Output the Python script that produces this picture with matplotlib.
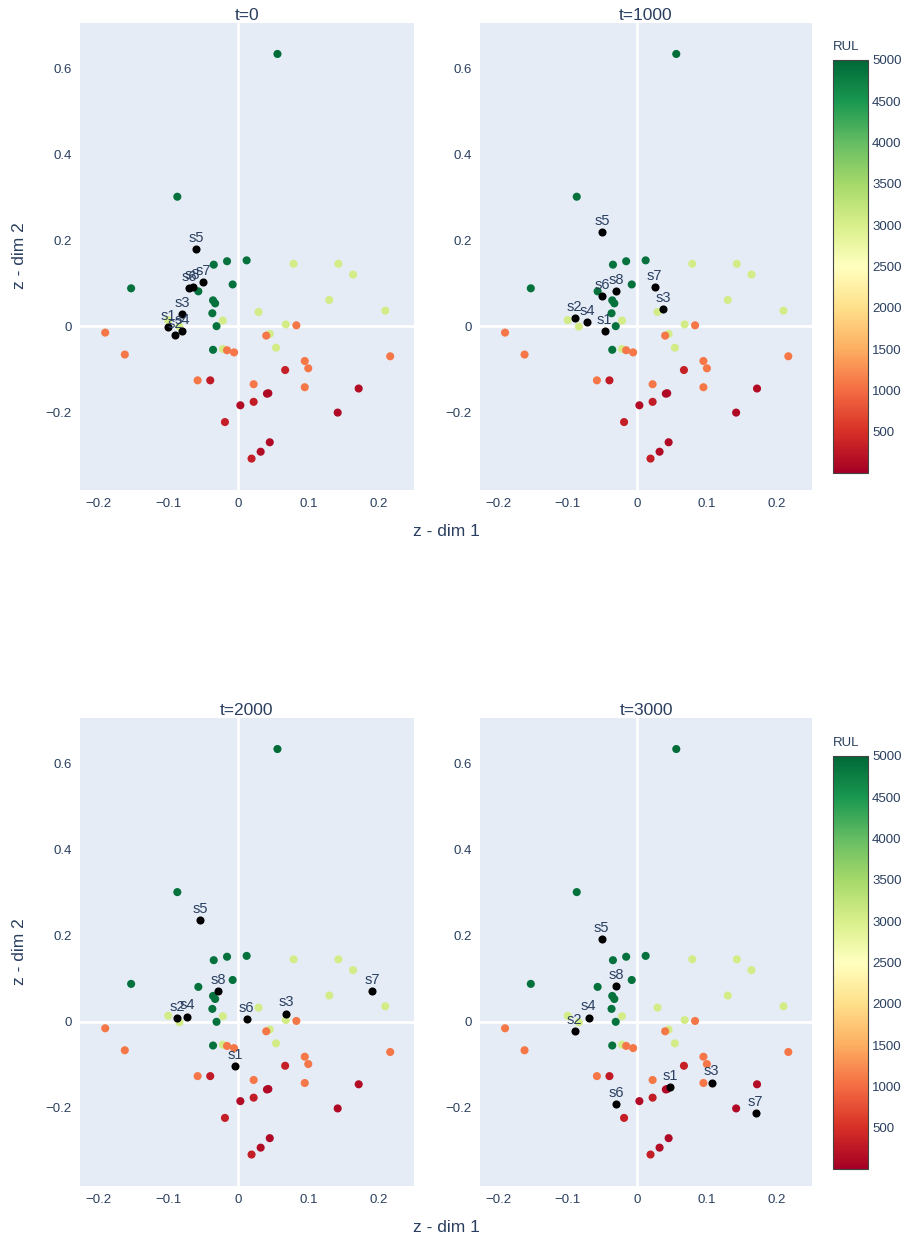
import matplotlib
matplotlib.use("Agg")
import matplotlib.pyplot as plt
import numpy as np
from matplotlib.cm import ScalarMappable
from matplotlib.colors import Normalize

plt.rcParams['font.family'] = ['Liberation Sans', 'DejaVu Sans']

# background points (same in every panel), coloured by RUL
bg_x = [0.056, -0.087, -0.035, -0.016, 0.012, -0.153, -0.057, -0.008, -0.036, -0.033,
        -0.037, -0.031, -0.036,
        0.079, 0.143, 0.164, 0.130, 0.210, 0.029, -0.022, 0.068, 0.045, 0.054, -0.022,
        -0.100, -0.084,
        -0.190, -0.162, 0.083, 0.040, -0.016, -0.006, 0.217, 0.095, 0.100, -0.058,
        0.022, 0.095,
        0.067, -0.040, 0.172, 0.041, 0.043, 0.022, 0.003, 0.142, -0.019, 0.045,
        0.032, 0.019]
bg_y = [0.633, 0.301, 0.143, 0.151, 0.153, 0.088, 0.081, 0.097, 0.060, 0.053,
        0.030, 0.000, -0.055,
        0.145, 0.145, 0.120, 0.061, 0.036, 0.033, 0.013, 0.004, -0.018, -0.050, -0.053,
        0.014, -0.001,
        -0.015, -0.066, 0.002, -0.022, -0.056, -0.061, -0.070, -0.081, -0.098, -0.126,
        -0.135, -0.142,
        -0.102, -0.126, -0.145, -0.157, -0.156, -0.176, -0.184, -0.201, -0.223, -0.270,
        -0.292, -0.308]
bg_rul = [4950, 4900, 4900, 4900, 4900, 4900, 4900, 4900, 4900, 4900,
          4900, 4900, 4900,
          3050, 3050, 3050, 3050, 3050, 3050, 3050, 3050, 3050, 3050, 3050,
          3050, 3050,
          1080, 1080, 1080, 1080, 1080, 1080, 1080, 1080, 1080, 1080,
          1080, 1080,
          350, 280, 150, 100, 100, 300, 120, 100, 320, 100,
          120, 330]

# tracked samples s1..s8 at each time step
labels = ['s1', 's2', 's3', 's4', 's5', 's6', 's7', 's8']
times = [0, 1000, 2000, 3000]
sx = {
    0:    [-0.100, -0.090, -0.080, -0.080, -0.060, -0.070, -0.050, -0.065],
    1000: [-0.047, -0.090, 0.037, -0.072, -0.050, -0.050, 0.025, -0.030],
    2000: [-0.004, -0.087, 0.068, -0.073, -0.054, 0.012, 0.191, -0.029],
    3000: [0.047, -0.090, 0.107, -0.070, -0.051, -0.030, 0.170, -0.030],
}
sy = {
    0:    [-0.002, -0.021, 0.029, -0.012, 0.179, 0.089, 0.102, 0.092],
    1000: [-0.011, 0.019, 0.039, 0.009, 0.219, 0.069, 0.091, 0.082],
    2000: [-0.102, 0.009, 0.019, 0.012, 0.236, 0.006, 0.072, 0.072],
    3000: [-0.151, -0.021, -0.141, 0.010, 0.192, -0.191, -0.212, 0.082],
}

W, H = 909, 1241
fig = plt.figure(figsize=(W / 100, H / 100), dpi=100)
txt = '#2a3f5f'


def rect(l, t, r, b):
    return [l / W, 1 - b / H, (r - l) / W, (b - t) / H]


boxes = [(80, 23, 414, 490), (480, 23, 812, 490),
         (80, 718, 414, 1186), (480, 718, 812, 1186)]
norm = Normalize(vmin=0, vmax=5000)
cmap = plt.get_cmap('RdYlGn')

for i, t in enumerate(times):
    ax = fig.add_axes(rect(*boxes[i]))
    ax.set_facecolor('#E5ECF6')
    for s in ax.spines.values():
        s.set_visible(False)
    ax.axhline(0, color='white', lw=2, zorder=1)
    ax.axvline(0, color='white', lw=2, zorder=1)
    ax.scatter(bg_x, bg_y, c=bg_rul, cmap=cmap, norm=norm, s=34,
               linewidths=0, zorder=2)
    ax.scatter(sx[t], sy[t], c='black', s=34, linewidths=0, zorder=3)
    for lab, x, y in zip(labels, sx[t], sy[t]):
        ax.annotate(lab, (x, y), xytext=(0, 3), textcoords='offset points',
                    ha='center', va='bottom', fontsize=10.5, color=txt, zorder=4)
    ax.set_xlim(-0.226, 0.251)
    ax.set_ylim(-0.381, 0.705)
    ax.set_xticks([-0.2, -0.1, 0, 0.1, 0.2])
    ax.set_xticklabels(['−0.2', '−0.1', '0', '0.1', '0.2'])
    ax.set_yticks([-0.2, 0, 0.2, 0.4, 0.6])
    ax.set_yticklabels(['−0.2', '0', '0.2', '0.4', '0.6'])
    ax.tick_params(length=0, labelsize=9.5, labelcolor=txt, pad=6)
    ax.set_title('t=%d' % t, fontsize=12.5, color=txt, pad=1)

for yy in (532, 1227):
    fig.text(446 / W, 1 - yy / H, 'z - dim 1', ha='center', va='center',
             fontsize=12.5, color=txt)
for yy in (256, 952):
    fig.text(20 / W, 1 - yy / H, 'z - dim 2', ha='center', va='center',
             fontsize=12.5, color=txt, rotation=90)

sm = ScalarMappable(norm=norm, cmap=cmap)
for top, bot in ((60, 473), (756, 1169)):
    cax = fig.add_axes(rect(833, top, 868, bot))
    cb = fig.colorbar(sm, cax=cax, ticks=[500, 1000, 1500, 2000, 2500, 3000,
                                          3500, 4000, 4500, 5000])
    cb.outline.set_edgecolor('#444444')
    cb.outline.set_linewidth(0.8)
    cax.tick_params(length=0, labelsize=9.5, labelcolor=txt, pad=3)
    fig.text(833 / W, 1 - (top - 13) / H, 'RUL', ha='left', va='center',
             fontsize=9.5, color=txt)

fig.savefig('out.png', dpi=100)
